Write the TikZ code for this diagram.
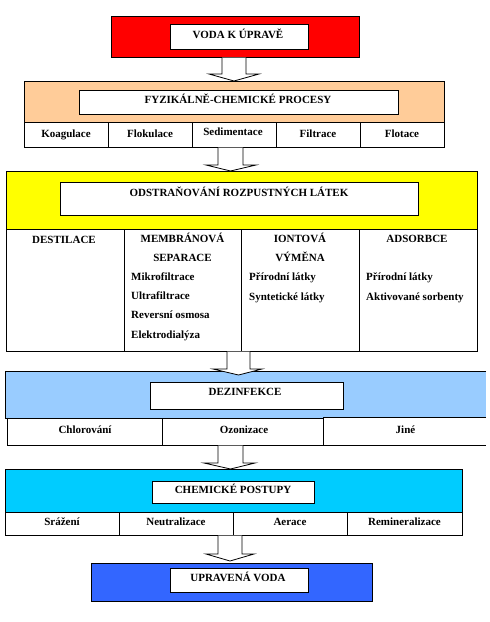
\documentclass[tikz,border=0pt]{standalone}
\usepackage{fontspec}
\setmainfont{Liberation Serif}
\begin{document}
\begin{tikzpicture}[x=1pt,y=-1pt,
  box/.style={draw=black, line width=0.9pt, inner sep=0pt, rectangle},
  wbox/.style={box, fill=white},
  txt/.style={inner sep=0pt, text height=7.6pt, text depth=0pt, font=\fontsize{11}{13}\selectfont\bfseries},
  ltxt/.style={txt, anchor=west},
  barrow/.style={draw=black, fill=white, line width=0.8pt, line join=miter}]
\useasboundingbox (0,0) rectangle (490,622);
\definecolor{cred}{HTML}{FF0000}
\definecolor{corange}{HTML}{FFCC99}
\definecolor{cyellow}{HTML}{FFFF00}
\definecolor{clblue}{HTML}{99CCFF}
\definecolor{ccyan}{HTML}{00CCFF}
\definecolor{cblue}{HTML}{3366FF}

% --- Voda k uprave
\node[box, fill=cred, minimum width=248pt, minimum height=41pt] (red) at (235,36.5) {};
\node[wbox, minimum width=138pt, minimum height=25pt] (redin) at (239,36.5) {};
\node[txt] (t1) at (238,35) {VODA K ÚPRAVĚ};

% --- Fyzikalne-chemicke procesy
\node[box, fill=corange, minimum width=420pt, minimum height=41pt] (org) at (234,101.5) {};
\node[wbox, minimum width=319pt, minimum height=24pt] (orgin) at (238.5,102) {};
\node[txt] (t2) at (238,100) {FYZIKÁLNĚ-CHEMICKÉ PROCESY};
\node[wbox, minimum width=84pt, minimum height=25pt] (o1) at (66,134.5) {};
\node[wbox, minimum width=84pt, minimum height=25pt] (o2) at (150,134.5) {};
\node[wbox, minimum width=84pt, minimum height=25pt] (o3) at (234,134.5) {};
\node[wbox, minimum width=84pt, minimum height=25pt] (o4) at (318,134.5) {};
\node[wbox, minimum width=84pt, minimum height=25pt] (o5) at (402,134.5) {};
\node[txt] (o1t) at (66,133.5) {Koagulace};
\node[txt] (o2t) at (150,133.5) {Flokulace};
\node[txt] (o3t) at (233,132) {Sedimentace};
\node[txt] (o4t) at (318,133.5) {Filtrace};
\node[txt] (o5t) at (402,133.5) {Flotace};

% --- Odstranovani rozpustnych latek
\node[box, fill=cyellow, minimum width=471pt, minimum height=58pt] (yel) at (241.5,200) {};
\node[wbox, minimum width=358pt, minimum height=33pt] (yelin) at (239,198.5) {};
\node[txt] (t3) at (239,193) {ODSTRAŇOVÁNÍ ROZPUSTNÝCH LÁTEK};
\node[wbox, minimum width=118pt, minimum height=122pt] (y1) at (65,290) {};
\node[wbox, minimum width=117pt, minimum height=122pt] (y2) at (182.5,290) {};
\node[wbox, minimum width=118pt, minimum height=122pt] (y3) at (300,290) {};
\node[wbox, minimum width=118pt, minimum height=122pt] (y4) at (418,290) {};
\node[txt] (y1a) at (64,240) {DESTILACE};
\node[txt] (y2a) at (182.5,239) {MEMBRÁNOVÁ};
\node[txt] (y2b) at (182.5,258) {SEPARACE};
\node[txt] (y3a) at (300,239) {IONTOVÁ};
\node[txt] (y3b) at (300,258) {VÝMĚNA};
\node[txt] (y4a) at (417,239) {ADSORBCE};
\node[ltxt] (m1) at (131,277) {Mikrofiltrace};
\node[ltxt] (m2) at (131,296) {Ultrafiltrace};
\node[ltxt] (m3) at (131,315) {Reversní osmosa};
\node[ltxt] (m4) at (131,335) {Elektrodialýza};
\node[ltxt] (i1) at (249,277) {Přírodní látky};
\node[ltxt] (i2) at (249,297) {Syntetické látky};
\node[ltxt] (a1) at (366,277) {Přírodní látky};
\node[ltxt] (a2) at (366,297) {Aktivované sorbenty};

% --- Dezinfekce
\node[fill=clblue, inner sep=0pt, minimum width=480pt, minimum height=46pt] (lb) at (246,395) {};
\draw[line width=0.9pt] (lb.north east) -- (lb.north west) -- (lb.south west) -- (lb.south east);
\node[wbox, minimum width=193pt, minimum height=27pt] (lbin) at (246.5,395.5) {};
\node[txt] (t4) at (245,392) {DEZINFEKCE};
\node[wbox, minimum width=155pt, minimum height=27pt] (d1) at (84.5,431.5) {};
\node[wbox, minimum width=162pt, minimum height=27pt] (d2) at (243,431.5) {};
\node[fill=white, inner sep=0pt, minimum width=162pt, minimum height=27pt] (d3) at (405,431.5) {};
\draw[line width=0.9pt] (d3.north east) -- (d3.north west) -- (d3.south west) -- (d3.south east);
\node[txt] (d1t) at (85,430) {Chlorování};
\node[txt] (d2t) at (244,430) {Ozonizace};
\node[txt] (d3t) at (405.5,430) {Jiné};

% --- Chemicke postupy
\node[box, fill=ccyan, minimum width=457pt, minimum height=43pt] (cy) at (233.5,490.5) {};
\node[wbox, minimum width=162pt, minimum height=22pt] (cyin) at (233,492) {};
\node[txt] (t5) at (233,490) {CHEMICKÉ POSTUPY};
\node[wbox, minimum width=114pt, minimum height=23pt] (c1) at (62,523.5) {};
\node[wbox, minimum width=114pt, minimum height=23pt] (c2) at (176,523.5) {};
\node[wbox, minimum width=114pt, minimum height=23pt] (c3) at (290,523.5) {};
\node[wbox, minimum width=115pt, minimum height=23pt] (c4) at (404.5,523.5) {};
\node[txt] (c1t) at (62,522) {Srážení};
\node[txt] (c2t) at (176,522) {Neutralizace};
\node[txt] (c3t) at (290,522) {Aerace};
\node[txt] (c4t) at (404.5,522) {Remineralizace};

% --- Upravena voda
\node[box, fill=cblue, minimum width=281pt, minimum height=38pt] (bl) at (231.5,582) {};
\node[wbox, minimum width=138pt, minimum height=24pt] (blin) at (239,580) {};
\node[txt] (t6) at (238,578) {UPRAVENÁ VODA};

% --- block arrows
\draw[barrow] (222,57.5) -- (222,74) -- (209,74) -- (234,81) -- (259,74) -- (246,74) -- (246,57.5);
\draw[barrow] (218,147.5) -- (218,165) -- (206,165) -- (230.5,171) -- (256,165) -- (243,165) -- (243,147.5);
\draw[barrow] (227,351.5) -- (227,369) -- (213,369) -- (238.5,375) -- (262,369) -- (250,369) -- (250,351.5);
\draw[barrow] (218,445.5) -- (218,463) -- (204,463) -- (230.5,469) -- (255,463) -- (243,463) -- (243,445.5);
\draw[barrow] (218,535.5) -- (218,554) -- (206,554) -- (230,561) -- (254,554) -- (242,554) -- (242,535.5);
\end{tikzpicture}
\end{document}
